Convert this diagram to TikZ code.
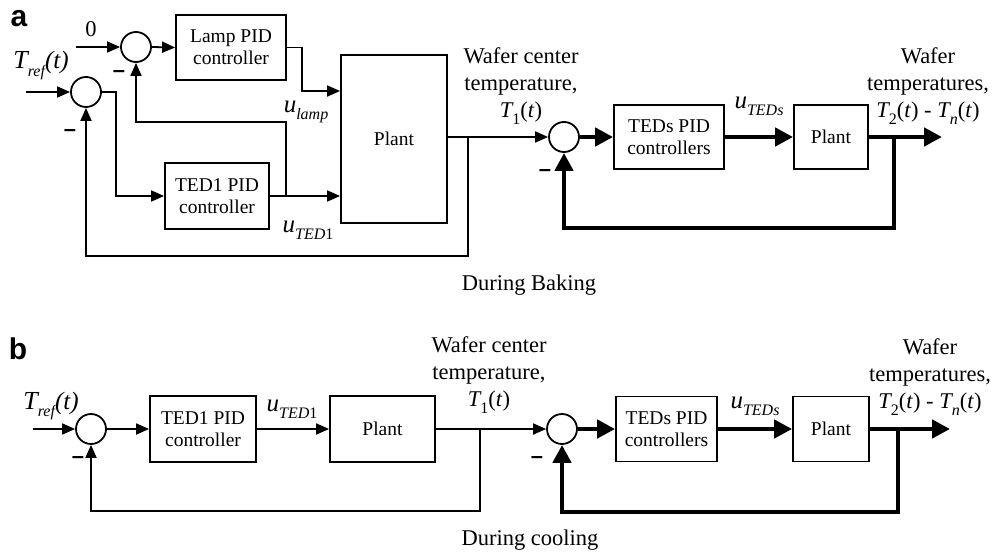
\documentclass[tikz,border=0pt]{standalone}
\usepackage{fontspec}
\setmainfont{Liberation Serif}
\newfontfamily\lsans{Liberation Sans}
\newfontfamily\lserif{Liberation Serif}
\usetikzlibrary{arrows.meta}
\newcommand\sbi[1]{\raisebox{-0.32em}{\fontsize{16}{16}\selectfont\itshape #1}}
\newcommand\sbu[1]{\raisebox{-0.32em}{\fontsize{16}{16}\selectfont #1}}
\newcommand\bigu{{\fontsize{25}{25}\selectfont\itshape u}}
\newcommand\trefl{{\fontsize{26}{26}\selectfont\itshape T}\sbi{ref}{\fontsize{25}{25}\selectfont\itshape (t)}}
\tikzset{
 wire/.style={line width=1.8pt},
 fat/.style={line width=4.5pt},
 arr/.style={-{Triangle[length=13pt,width=11pt]}},
 fatarr/.style={-{Triangle[length=18pt,width=18pt]}},
 blk/.style={draw, line width=1.8pt, align=center, inner sep=0pt, font=\lserif\fontsize{19.5}{22}\selectfont},
 sumc/.style={draw, circle, line width=1.8pt, minimum size=30pt, inner sep=0pt},
 lbl/.style={font=\lserif\fontsize{22.5}{27}\selectfont, align=center, inner sep=0pt},
 minus/.style={font=\lsans\bfseries\fontsize{22}{22}\selectfont, inner sep=0pt},
 panel/.style={font=\lsans\bfseries\fontsize{30}{30}\selectfont, inner sep=0pt, anchor=base},
}
\begin{document}
\begin{tikzpicture}[x=1pt,y=-1pt]
\useasboundingbox (0,0) rectangle (995,551);
% ---------- panel a ----------
\node[panel] (pa) at (19,27) {a};
\node[sumc] (s1) at (136,47) {};
\node[sumc] (s2) at (86,92) {};
\node[blk, minimum width=110pt, minimum height=65pt] (lamp) at (231,47.5) {Lamp PID\\controller};
\node[blk, minimum width=104pt, minimum height=66pt] (ted1) at (217,196) {TED1 PID\\controller};
\node[blk, minimum width=106pt, minimum height=168pt] (plant) at (394,139) {Plant};
\node[sumc] (s3) at (564,137) {};
\node[blk, minimum width=110pt, minimum height=64pt] (teds) at (669,137) {TEDs PID\\controllers};
\node[blk, minimum width=74pt, minimum height=64pt] (plant2) at (831,137) {Plant};

\coordinate (in0) at (76,47);
\coordinate (inr) at (26,92);
\coordinate (outa) at (942,137);

\node[lbl, anchor=base] (zero) at (91,37) {0};
\node[lbl, anchor=base] (tref) at (41,69) {\trefl};
\node[minus] (m1) at (119,74) {–};
\node[minus] (m2) at (70,133) {–};
\node[minus] (m3) at (545,173) {–};
\node[lbl, anchor=base] (ulamp) at (306,112) {\bigu\sbi{lamp}};
\node[lbl, anchor=base] (uted1) at (308,232) {\bigu\sbi{TED}\sbu{1}};
\node[lbl] (wc) at (521,86) {Wafer center\\temperature,\\{\itshape T}\sbu{1}(\textit{t})};
\node[lbl, anchor=base] (uteds) at (759,108) {\bigu\sbi{TEDs}};
\node[lbl] (wt) at (928,86) {Wafer\\temperatures,\\{\itshape T}\sbu{2}(\textit{t}) - {\itshape T}\sbi{n}(\textit{t})};
\node[lbl, anchor=base] (cap1) at (529,290) {During Baking};

\draw[wire, arr] (in0) -- (s1.west);
\draw[wire, arr] (s1.east) -- (lamp.west);
\draw[wire, arr] (lamp.east) -- (302,47.5) -- (302,91) -- (plant.west |- 0,91);
\draw[wire, arr] (inr) -- (s2.west);
\draw[wire, arr] (s2.east) -- (116,92) -- (116,196) -- (ted1.west);
\draw[wire, arr] (ted1.east) -- (plant.west |- ted1.east);
\draw[wire, arr] (286,196) -- (286,122) -- (136,122) -- (s1.south);
\draw[wire, arr] (plant.east |- s3.west) -- (s3.west);
\draw[wire, arr] (468,137) -- (468,256) -- (86,256) -- (s2.south);
\draw[fat, fatarr] (s3.east) -- (teds.west);
\draw[fat, fatarr] (teds.east) -- (plant2.west);
\draw[fat, fatarr] (plant2.east) -- (outa);
\draw[fat, fatarr] (894,137) -- (894,228) -- (564,228) -- (s3.south);

% ---------- panel b ----------
\node[panel] (pb) at (18,359) {b};
\node[sumc] (b1) at (91,429) {};
\node[blk, minimum width=106pt, minimum height=66pt] (bted1) at (203,429) {TED1 PID\\controller};
\node[blk, minimum width=105pt, minimum height=66pt] (bplant) at (382.5,429) {Plant};
\node[sumc] (b2) at (562,429) {};
\node[blk, minimum width=101pt, minimum height=65pt] (bteds) at (666.5,429) {TEDs PID\\controllers};
\node[blk, minimum width=76pt, minimum height=65pt] (bplant2) at (831,429) {Plant};

\coordinate (inb) at (33,429);
\coordinate (outb) at (950,429);

\node[lbl, anchor=base] (treb) at (51,409) {\trefl};
\node[minus] (mb1) at (78,460) {–};
\node[minus] (mb2) at (537,460) {–};
\node[lbl, anchor=base] (buted1) at (292,411) {\bigu\sbi{TED}\sbu{1}};
\node[lbl] (bwc) at (489,375) {Wafer center\\temperature,\\{\itshape T}\sbu{1}(\textit{t})};
\node[lbl, anchor=base] (buteds) at (755,408) {\bigu\sbi{TEDs}};
\node[lbl] (bwt) at (930,377) {Wafer\\temperatures,\\{\itshape T}\sbu{2}(\textit{t}) - {\itshape T}\sbi{n}(\textit{t})};
\node[lbl, anchor=base] (cap2) at (530,545) {During cooling};

\draw[wire, arr] (inb) -- (b1.west);
\draw[wire, arr] (b1.east) -- (bted1.west);
\draw[wire, arr] (bted1.east) -- (bplant.west);
\draw[wire, arr] (bplant.east) -- (b2.west);
\draw[wire, arr] (480,429) -- (480,511) -- (91,511) -- (b1.south);
\draw[fat, fatarr] (b2.east) -- (bteds.west);
\draw[fat, fatarr] (bteds.east) -- (bplant2.west);
\draw[fat, fatarr] (bplant2.east) -- (outb);
\draw[fat, fatarr] (898,429) -- (898,512) -- (562,512) -- (b2.south);
\end{tikzpicture}
\end{document}
